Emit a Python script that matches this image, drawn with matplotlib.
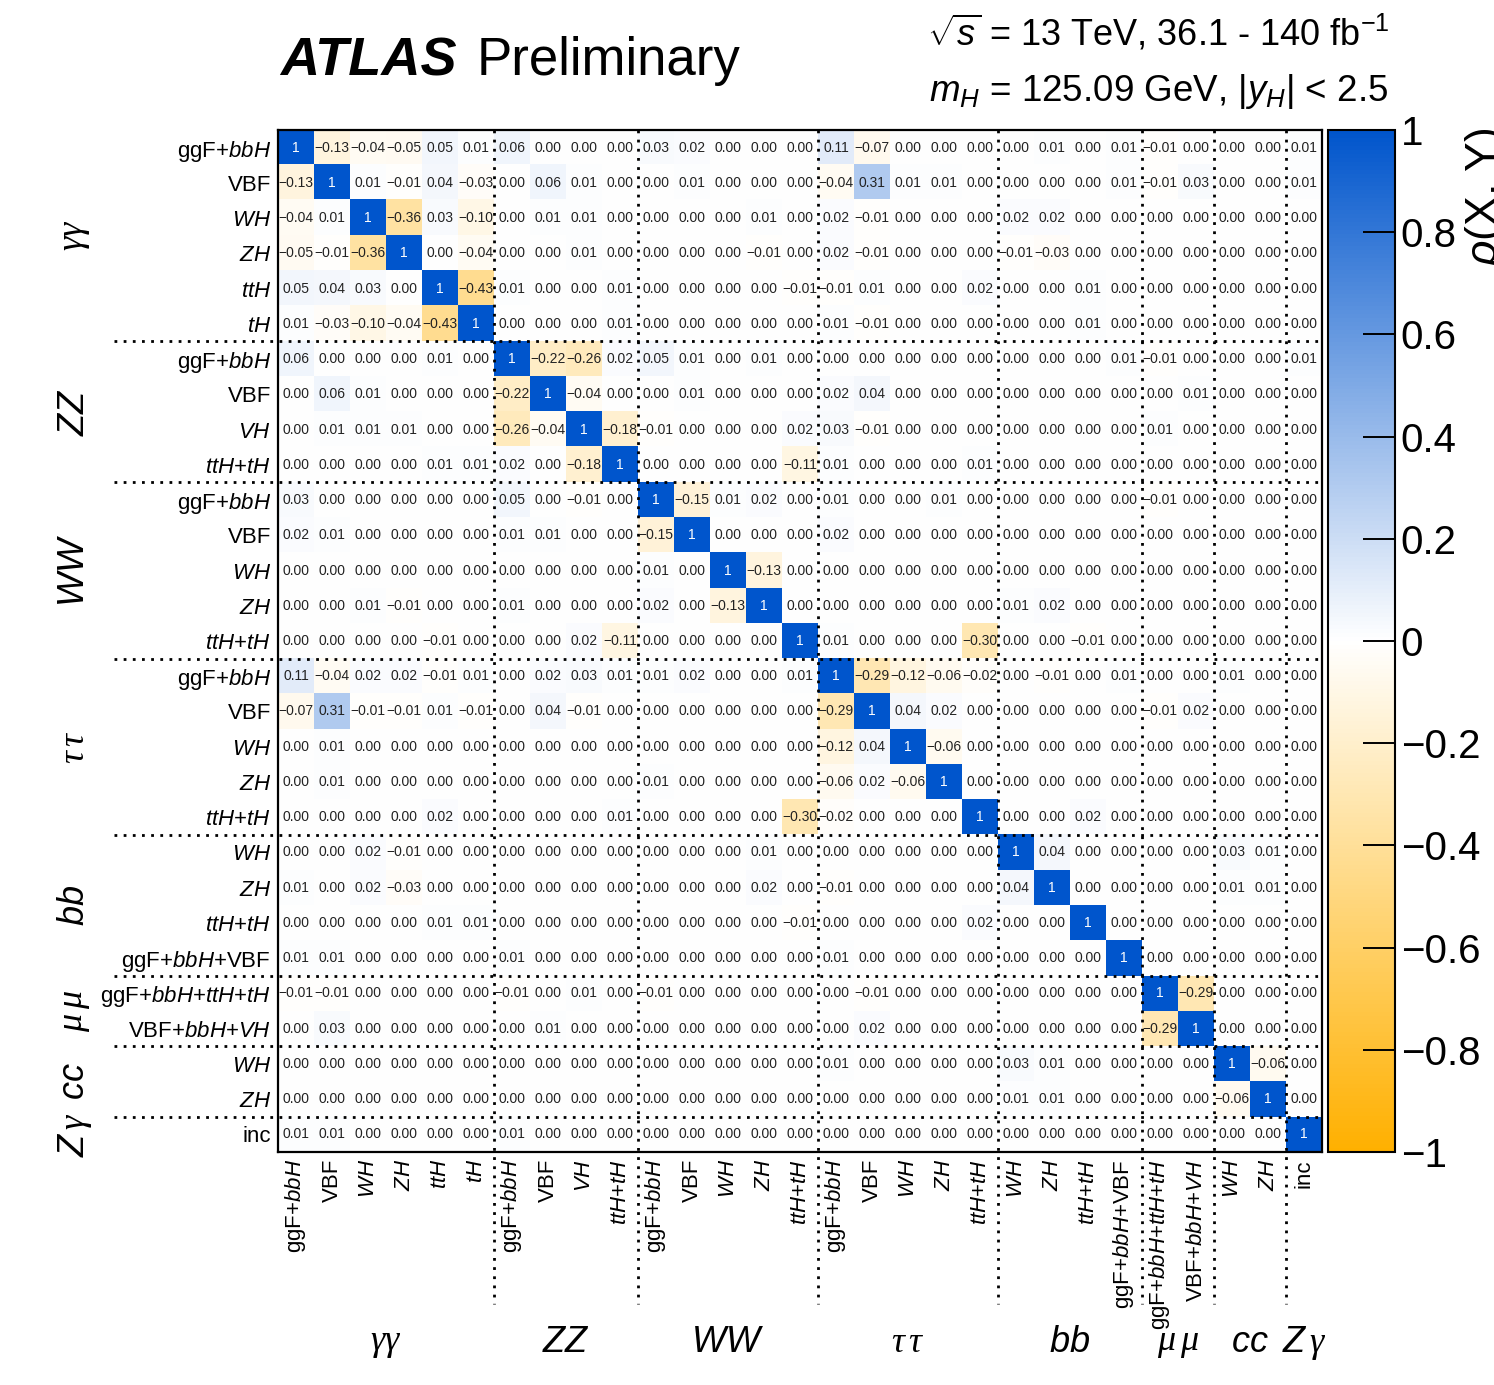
import numpy as np
import matplotlib
matplotlib.use('Agg')
import matplotlib.pyplot as plt
from matplotlib import transforms
from matplotlib.colors import LinearSegmentedColormap

plt.rcParams['font.family'] = ['Liberation Sans', 'DejaVu Sans']
plt.rcParams['mathtext.fontset'] = 'custom'
plt.rcParams['mathtext.rm'] = 'Liberation Sans'
plt.rcParams['mathtext.it'] = 'Liberation Sans:italic'
plt.rcParams['mathtext.bf'] = 'Liberation Sans:bold'
plt.rcParams['mathtext.tt'] = 'Liberation Serif:italic'   # used for the greek channel letters

# decay channels and their production bins
channels = [r'$\mathtt{\gamma\gamma}$', r'$ZZ$', r'$WW$', r'$\mathtt{\tau\,\tau}$', r'$bb$',
            r'$\mathtt{\mu\,\mu}$', r'$cc$', r'$Z\,\mathtt{\gamma}$']
n_bins = [6, 4, 5, 5, 4, 2, 2, 1]

bins_yy = [r'ggF+$bbH$', 'VBF', r'$WH$', r'$ZH$', r'$ttH$', r'$tH$']
bins_zz = [r'ggF+$bbH$', 'VBF', r'$VH$', r'$ttH{+}tH$']
bins_ww = [r'ggF+$bbH$', 'VBF', r'$WH$', r'$ZH$', r'$ttH{+}tH$']
bins_tt = [r'ggF+$bbH$', 'VBF', r'$WH$', r'$ZH$', r'$ttH{+}tH$']
bins_bb = [r'$WH$', r'$ZH$', r'$ttH{+}tH$', r'ggF+$bbH$+VBF']
bins_mm = [r'ggF+$bbH{+}ttH{+}tH$', r'VBF+$bbH{+}VH$']
bins_cc = [r'$WH$', r'$ZH$']
bins_zy = ['inc']

# correlation rows, grouped by channel (columns: yy | ZZ | WW | tautau | bb | mumu | cc | Zy)
rho_yy = [
    [1, -0.13, -0.04, -0.05, 0.05, 0.01,  0.06, 0.00, 0.00, 0.00,  0.03, 0.02, 0.00, 0.00, 0.00,  0.11, -0.07, 0.00, 0.00, 0.00,  0.00, 0.01, 0.00, 0.01,  -0.01, 0.00,  0.00, 0.00,  0.01],
    [-0.13, 1, 0.01, -0.01, 0.04, -0.03,  0.00, 0.06, 0.01, 0.00,  0.00, 0.01, 0.00, 0.00, 0.00,  -0.04, 0.31, 0.01, 0.01, 0.00,  0.00, 0.00, 0.00, 0.01,  -0.01, 0.03,  0.00, 0.00,  0.01],
    [-0.04, 0.01, 1, -0.36, 0.03, -0.10,  0.00, 0.01, 0.01, 0.00,  0.00, 0.00, 0.00, 0.01, 0.00,  0.02, -0.01, 0.00, 0.00, 0.00,  0.02, 0.02, 0.00, 0.00,  0.00, 0.00,  0.00, 0.00,  0.00],
    [-0.05, -0.01, -0.36, 1, 0.00, -0.04,  0.00, 0.00, 0.01, 0.00,  0.00, 0.00, 0.00, -0.01, 0.00,  0.02, -0.01, 0.00, 0.00, 0.00,  -0.01, -0.03, 0.00, 0.00,  0.00, 0.00,  0.00, 0.00,  0.00],
    [0.05, 0.04, 0.03, 0.00, 1, -0.43,  0.01, 0.00, 0.00, 0.01,  0.00, 0.00, 0.00, 0.00, -0.01,  -0.01, 0.01, 0.00, 0.00, 0.02,  0.00, 0.00, 0.01, 0.00,  0.00, 0.00,  0.00, 0.00,  0.00],
    [0.01, -0.03, -0.10, -0.04, -0.43, 1,  0.00, 0.00, 0.00, 0.01,  0.00, 0.00, 0.00, 0.00, 0.00,  0.01, -0.01, 0.00, 0.00, 0.00,  0.00, 0.00, 0.01, 0.00,  0.00, 0.00,  0.00, 0.00,  0.00],
]
rho_zz = [
    [0.06, 0.00, 0.00, 0.00, 0.01, 0.00,  1, -0.22, -0.26, 0.02,  0.05, 0.01, 0.00, 0.01, 0.00,  0.00, 0.00, 0.00, 0.00, 0.00,  0.00, 0.00, 0.00, 0.01,  -0.01, 0.00,  0.00, 0.00,  0.01],
    [0.00, 0.06, 0.01, 0.00, 0.00, 0.00,  -0.22, 1, -0.04, 0.00,  0.00, 0.01, 0.00, 0.00, 0.00,  0.02, 0.04, 0.00, 0.00, 0.00,  0.00, 0.00, 0.00, 0.00,  0.00, 0.01,  0.00, 0.00,  0.00],
    [0.00, 0.01, 0.01, 0.01, 0.00, 0.00,  -0.26, -0.04, 1, -0.18,  -0.01, 0.00, 0.00, 0.00, 0.02,  0.03, -0.01, 0.00, 0.00, 0.00,  0.00, 0.00, 0.00, 0.00,  0.01, 0.00,  0.00, 0.00,  0.00],
    [0.00, 0.00, 0.00, 0.00, 0.01, 0.01,  0.02, 0.00, -0.18, 1,  0.00, 0.00, 0.00, 0.00, -0.11,  0.01, 0.00, 0.00, 0.00, 0.01,  0.00, 0.00, 0.00, 0.00,  0.00, 0.00,  0.00, 0.00,  0.00],
]
rho_ww = [
    [0.03, 0.00, 0.00, 0.00, 0.00, 0.00,  0.05, 0.00, -0.01, 0.00,  1, -0.15, 0.01, 0.02, 0.00,  0.01, 0.00, 0.00, 0.01, 0.00,  0.00, 0.00, 0.00, 0.00,  -0.01, 0.00,  0.00, 0.00,  0.00],
    [0.02, 0.01, 0.00, 0.00, 0.00, 0.00,  0.01, 0.01, 0.00, 0.00,  -0.15, 1, 0.00, 0.00, 0.00,  0.02, 0.00, 0.00, 0.00, 0.00,  0.00, 0.00, 0.00, 0.00,  0.00, 0.00,  0.00, 0.00,  0.00],
    [0.00, 0.00, 0.00, 0.00, 0.00, 0.00,  0.00, 0.00, 0.00, 0.00,  0.01, 0.00, 1, -0.13, 0.00,  0.00, 0.00, 0.00, 0.00, 0.00,  0.00, 0.00, 0.00, 0.00,  0.00, 0.00,  0.00, 0.00,  0.00],
    [0.00, 0.00, 0.01, -0.01, 0.00, 0.00,  0.01, 0.00, 0.00, 0.00,  0.02, 0.00, -0.13, 1, 0.00,  0.00, 0.00, 0.00, 0.00, 0.00,  0.01, 0.02, 0.00, 0.00,  0.00, 0.00,  0.00, 0.00,  0.00],
    [0.00, 0.00, 0.00, 0.00, -0.01, 0.00,  0.00, 0.00, 0.02, -0.11,  0.00, 0.00, 0.00, 0.00, 1,  0.01, 0.00, 0.00, 0.00, -0.30,  0.00, 0.00, -0.01, 0.00,  0.00, 0.00,  0.00, 0.00,  0.00],
]
rho_tt = [
    [0.11, -0.04, 0.02, 0.02, -0.01, 0.01,  0.00, 0.02, 0.03, 0.01,  0.01, 0.02, 0.00, 0.00, 0.01,  1, -0.29, -0.12, -0.06, -0.02,  0.00, -0.01, 0.00, 0.01,  0.00, 0.00,  0.01, 0.00,  0.00],
    [-0.07, 0.31, -0.01, -0.01, 0.01, -0.01,  0.00, 0.04, -0.01, 0.00,  0.00, 0.00, 0.00, 0.00, 0.00,  -0.29, 1, 0.04, 0.02, 0.00,  0.00, 0.00, 0.00, 0.00,  -0.01, 0.02,  0.00, 0.00,  0.00],
    [0.00, 0.01, 0.00, 0.00, 0.00, 0.00,  0.00, 0.00, 0.00, 0.00,  0.00, 0.00, 0.00, 0.00, 0.00,  -0.12, 0.04, 1, -0.06, 0.00,  0.00, 0.00, 0.00, 0.00,  0.00, 0.00,  0.00, 0.00,  0.00],
    [0.00, 0.01, 0.00, 0.00, 0.00, 0.00,  0.00, 0.00, 0.00, 0.00,  0.01, 0.00, 0.00, 0.00, 0.00,  -0.06, 0.02, -0.06, 1, 0.00,  0.00, 0.00, 0.00, 0.00,  0.00, 0.00,  0.00, 0.00,  0.00],
    [0.00, 0.00, 0.00, 0.00, 0.02, 0.00,  0.00, 0.00, 0.00, 0.01,  0.00, 0.00, 0.00, 0.00, -0.30,  -0.02, 0.00, 0.00, 0.00, 1,  0.00, 0.00, 0.02, 0.00,  0.00, 0.00,  0.00, 0.00,  0.00],
]
rho_bb = [
    [0.00, 0.00, 0.02, -0.01, 0.00, 0.00,  0.00, 0.00, 0.00, 0.00,  0.00, 0.00, 0.00, 0.01, 0.00,  0.00, 0.00, 0.00, 0.00, 0.00,  1, 0.04, 0.00, 0.00,  0.00, 0.00,  0.03, 0.01,  0.00],
    [0.01, 0.00, 0.02, -0.03, 0.00, 0.00,  0.00, 0.00, 0.00, 0.00,  0.00, 0.00, 0.00, 0.02, 0.00,  -0.01, 0.00, 0.00, 0.00, 0.00,  0.04, 1, 0.00, 0.00,  0.00, 0.00,  0.01, 0.01,  0.00],
    [0.00, 0.00, 0.00, 0.00, 0.01, 0.01,  0.00, 0.00, 0.00, 0.00,  0.00, 0.00, 0.00, 0.00, -0.01,  0.00, 0.00, 0.00, 0.00, 0.02,  0.00, 0.00, 1, 0.00,  0.00, 0.00,  0.00, 0.00,  0.00],
    [0.01, 0.01, 0.00, 0.00, 0.00, 0.00,  0.01, 0.00, 0.00, 0.00,  0.00, 0.00, 0.00, 0.00, 0.00,  0.01, 0.00, 0.00, 0.00, 0.00,  0.00, 0.00, 0.00, 1,  0.00, 0.00,  0.00, 0.00,  0.00],
]
rho_mm = [
    [-0.01, -0.01, 0.00, 0.00, 0.00, 0.00,  -0.01, 0.00, 0.01, 0.00,  -0.01, 0.00, 0.00, 0.00, 0.00,  0.00, -0.01, 0.00, 0.00, 0.00,  0.00, 0.00, 0.00, 0.00,  1, -0.29,  0.00, 0.00,  0.00],
    [0.00, 0.03, 0.00, 0.00, 0.00, 0.00,  0.00, 0.01, 0.00, 0.00,  0.00, 0.00, 0.00, 0.00, 0.00,  0.00, 0.02, 0.00, 0.00, 0.00,  0.00, 0.00, 0.00, 0.00,  -0.29, 1,  0.00, 0.00,  0.00],
]
rho_cc = [
    [0.00, 0.00, 0.00, 0.00, 0.00, 0.00,  0.00, 0.00, 0.00, 0.00,  0.00, 0.00, 0.00, 0.00, 0.00,  0.01, 0.00, 0.00, 0.00, 0.00,  0.03, 0.01, 0.00, 0.00,  0.00, 0.00,  1, -0.06,  0.00],
    [0.00, 0.00, 0.00, 0.00, 0.00, 0.00,  0.00, 0.00, 0.00, 0.00,  0.00, 0.00, 0.00, 0.00, 0.00,  0.00, 0.00, 0.00, 0.00, 0.00,  0.01, 0.01, 0.00, 0.00,  0.00, 0.00,  -0.06, 1,  0.00],
]
rho_zy = [
    [0.01, 0.01, 0.00, 0.00, 0.00, 0.00,  0.01, 0.00, 0.00, 0.00,  0.00, 0.00, 0.00, 0.00, 0.00,  0.00, 0.00, 0.00, 0.00, 0.00,  0.00, 0.00, 0.00, 0.00,  0.00, 0.00,  0.00, 0.00,  1],
]

cbar_ticks = [-1, -0.8, -0.6, -0.4, -0.2, 0, 0.2, 0.4, 0.6, 0.8, 1]
cbar_labels = ['\u22121', '\u22120.8', '\u22120.6', '\u22120.4', '\u22120.2', '0', '0.2', '0.4', '0.6', '0.8', '1']

bin_labels = bins_yy + bins_zz + bins_ww + bins_tt + bins_bb + bins_mm + bins_cc + bins_zy
rho = np.array(rho_yy + rho_zz + rho_ww + rho_tt + rho_bb + rho_mm + rho_cc + rho_zy, dtype=float)
n = len(bin_labels)

W, H = 1494.0, 1385.0
fig = plt.figure(figsize=(W / 100, H / 100), dpi=100)
ax = fig.add_axes([278 / W, 1 - 1152 / H, 1044 / W, 1022 / H])
cax = fig.add_axes([1328 / W, 1 - 1152 / H, 67 / W, 1022 / H])

cmap = LinearSegmentedColormap.from_list('atlas_rho', ['#FFB000', '#FFFFFF', '#0055CC'])
im = ax.imshow(rho, cmap=cmap, vmin=-1, vmax=1, aspect='auto', interpolation='nearest')

for i in range(n):
    for j in range(n):
        if i == j:
            ax.text(j, i, '1', ha='center', va='center', fontsize=10, color='white')
        else:
            s = '%.2f' % rho[i, j]
            ax.text(j, i, s.replace('-', '\u2212'), ha='center', va='center', fontsize=10, color='#222222')

ax.set_xticks(range(n))
ax.set_xticklabels(bin_labels, rotation=90, fontsize=16)
ax.set_yticks(range(n))
ax.set_yticklabels(bin_labels, fontsize=16)
ax.tick_params(length=0, pad=5)
for sp in ax.spines.values():
    sp.set_linewidth(1.6)

# dotted channel separators, running out into the label area
edges = np.cumsum(n_bins)[:-1]
for b in edges:
    ax.plot([-5.05, n - 0.5], [b - 0.5, b - 0.5], color='black', lw=2, ls=(0, (1, 2.3)), clip_on=False)
    ax.plot([b - 0.5, b - 0.5], [-0.5, 32.8], color='black', lw=2, ls=(0, (1, 2.3)), clip_on=False)
ax.set_xlim(-0.5, n - 0.5)
ax.set_ylim(n - 0.5, -0.5)

# channel names
starts = np.concatenate([[0], np.cumsum(n_bins)[:-1]])
centers = starts + (np.array(n_bins) - 1) / 2.0
tr_left = transforms.blended_transform_factory(fig.transFigure, ax.transData)
tr_bot = transforms.blended_transform_factory(ax.transData, fig.transFigure)
for name, c in zip(channels, centers):
    fig.text(75 / W, c, name, transform=tr_left, rotation=90, ha='center', va='center', fontsize=26)
    fig.text(c, 1 - 1343 / H, name, transform=tr_bot, ha='center', va='center', fontsize=26)

# colour scale
cb = fig.colorbar(im, cax=cax)
cb.set_ticks(cbar_ticks)
cb.set_ticklabels(cbar_labels)
cb.minorticks_off()
cax.tick_params(direction='in', length=23, width=1.4, labelsize=29, pad=4, color='black')
cb.outline.set_linewidth(1.5)
fig.text(1463 / W, 1 - 128 / H, r'$\rho$(X, Y)', rotation=90, ha='left', va='top', fontsize=32)

# header
fig.text(280 / W, 1 - 75 / H, 'ATLAS', fontsize=39, fontweight='bold', fontstyle='italic', va='baseline')
fig.text(477 / W, 1 - 75 / H, 'Preliminary', fontsize=38, va='baseline')
fig.text(1390 / W, 1 - 46 / H, r'$\sqrt{s}$ = 13 TeV, 36.1 - 140 fb$^{-1}$', ha='right', va='baseline', fontsize=26)
fig.text(1388 / W, 1 - 101 / H, r'$m_{H}$ = 125.09 GeV, $|y_{H}|$ < 2.5', ha='right', va='baseline', fontsize=26.5)

fig.savefig('out.png', dpi=100)
